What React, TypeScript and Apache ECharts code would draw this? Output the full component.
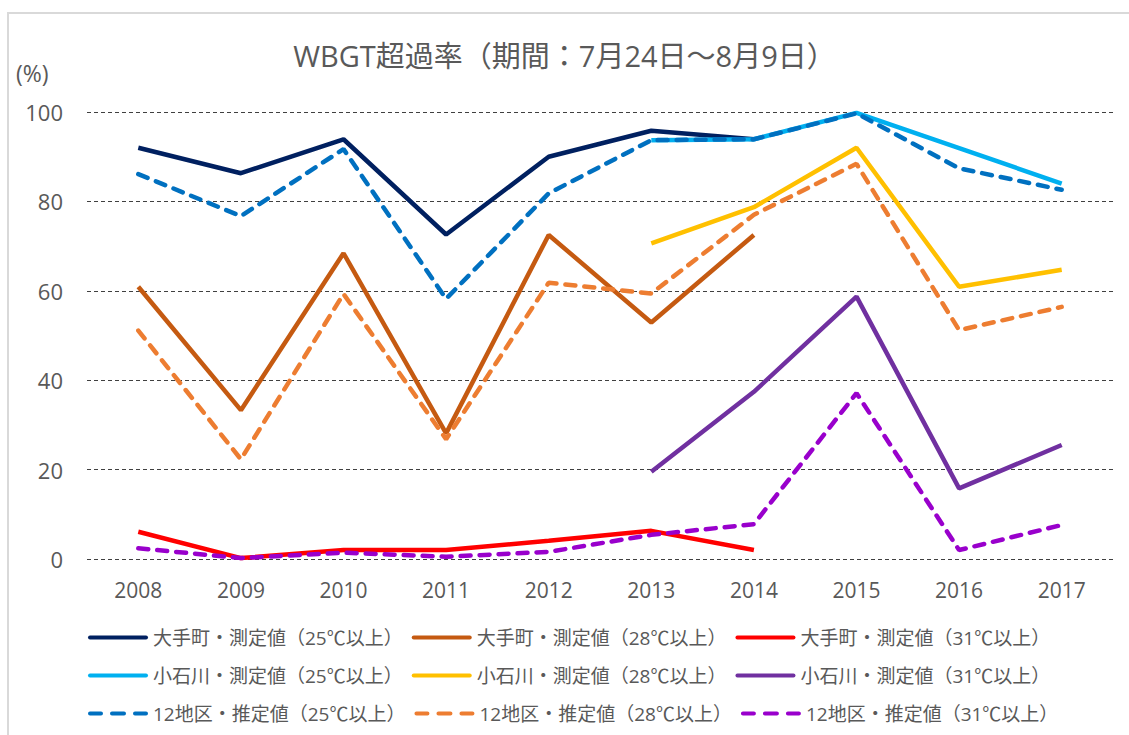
import React, { useEffect, useRef } from "react";
import * as echarts from "echarts";

const years = ["2008", "2009", "2010", "2011", "2012", "2013", "2014", "2015", "2016", "2017"];

const otemachi25 = [92.0, 86.3, 93.9, 72.6, 90.0, 95.8, 93.9, null, null, null];
const otemachi28 = [60.9, 33.3, 68.4, 28.1, 72.5, 52.9, 72.5, null, null, null];
const otemachi31 = [6.1, 0.2, 2.0, 2.0, 4.1, 6.3, 2.0, null, null, null];
const koishikawa25 = [null, null, null, null, null, 93.7, 93.9, 99.8, 91.9, 84.0];
const koishikawa28 = [null, null, null, null, null, 70.6, 78.7, 92.0, 60.9, 64.7];
const koishikawa31 = [null, null, null, null, null, 19.5, 37.4, 58.7, 15.8, 25.5];
const est25 = [86.1, 76.7, 91.7, 58.2, 81.8, 93.7, 93.9, 99.7, 87.4, 82.6];
const est28 = [51.1, 22.3, 59.3, 26.8, 61.8, 59.4, 77.0, 88.4, 51.2, 56.4];
const est31 = [2.4, 0.2, 1.4, 0.5, 1.6, 5.4, 7.8, 37.1, 2.0, 7.6];

const seriesNames = [
  "大手町・測定値（25℃以上）",
  "大手町・測定値（28℃以上）",
  "大手町・測定値（31℃以上）",
  "小石川・測定値（25℃以上）",
  "小石川・測定値（28℃以上）",
  "小石川・測定値（31℃以上）",
  "12地区・推定値（25℃以上）",
  "12地区・推定値（28℃以上）",
  "12地区・推定値（31℃以上）",
];
const seriesData = [otemachi25, otemachi28, otemachi31, koishikawa25, koishikawa28, koishikawa31, est25, est28, est31];
const seriesColors = ["#002060", "#C55A11", "#FF0000", "#00B0F0", "#FFC000", "#7030A0", "#0070C0", "#ED7D31", "#9900CC"];
const seriesDashed = [false, false, false, false, false, false, true, true, true];

const titleText = "WBGT超過率（期間：7月24日～8月9日）";
const unitText = "(%)";

const FONT = '"Open Sans", "Noto Sans CJK JP", sans-serif';
const GRAY = "#595959";

const SOLID_ICON = "path://M2,0H58A2,2,0,0,1,58,4H2A2,2,0,0,1,2,0Z";
const DASH_ICON =
  "path://M2,0H13A2,2,0,0,1,13,4H2A2,2,0,0,1,2,0Z M24,0H36A2,2,0,0,1,36,4H24A2,2,0,0,1,24,0Z M47,0H58A2,2,0,0,1,58,4H47A2,2,0,0,1,47,0Z";

export default function App() {
  const ref = useRef<HTMLDivElement>(null);
  useEffect(() => {
    if (!ref.current) return;
    const chart = echarts.init(ref.current, null, { renderer: "svg" });
    const legendRows = [0, 1, 2].map((r) => ({
      show: true,
      left: 88,
      top: 628 + r * 38,
      padding: 0,
      orient: "horizontal",
      itemWidth: 60,
      itemHeight: 5,
      itemGap: 9,
      data: seriesNames.slice(r * 3, r * 3 + 3).map((name, k) => ({
        name,
        icon: seriesDashed[r * 3 + k] ? DASH_ICON : SOLID_ICON,
      })),
      textStyle: { fontSize: 19, color: GRAY, fontFamily: FONT, width: 245, overflow: "none" },
    }));
    chart.setOption({
      animation: false,
      backgroundColor: "#ffffff",
      textStyle: { fontFamily: FONT },
      title: {
        text: titleText,
        left: "center",
        top: 36,
        textStyle: { fontSize: 29, fontWeight: "normal", color: GRAY, fontFamily: FONT },
      },
      legend: legendRows,
      grid: { left: 87, right: 16, top: 112, bottom: 176, containLabel: false },
      xAxis: {
        type: "category",
        data: years,
        boundaryGap: true,
        axisLine: { show: false },
        axisTick: { show: false },
        axisLabel: { fontSize: 21, color: GRAY, margin: 20, fontFamily: FONT },
      },
      yAxis: {
        type: "value",
        min: 0,
        max: 100,
        interval: 20,
        axisLine: { show: false },
        axisTick: { show: false },
        axisLabel: { fontSize: 22, color: GRAY, margin: 24, fontFamily: FONT },
        splitLine: { show: true, lineStyle: { color: "#404040", width: 1, type: [4, 3] } },
      },
      graphic: [
        { type: "line", shape: { x1: 8, y1: 13, x2: 8, y2: 735 }, style: { stroke: "#d9d9d9", lineWidth: 2 } },
        { type: "line", shape: { x1: 7, y1: 13, x2: 1129, y2: 13 }, style: { stroke: "#d9d9d9", lineWidth: 2 } },
        {
          type: "text",
          left: 16,
          top: 61,
          style: { text: unitText, fontSize: 23, fill: GRAY, fontFamily: FONT },
        },
      ],
      series: seriesNames.map((name, i) => ({
        name,
        type: "line",
        data: seriesData[i],
        symbol: "none",
        showSymbol: false,
        connectNulls: false,
        color: seriesColors[i],
        itemStyle: { color: seriesColors[i] },
        lineStyle: {
          color: seriesColors[i],
          width: 4.5,
          type: seriesDashed[i] ? [10, 9] : "solid",
          cap: seriesDashed[i] ? "round" : "butt",
        },
      })),
    });
    return () => chart.dispose();
  }, []);
  return <div ref={ref} style={{ position: "fixed", left: 0, top: 0, width: 1129, height: 735 }} />;
}
